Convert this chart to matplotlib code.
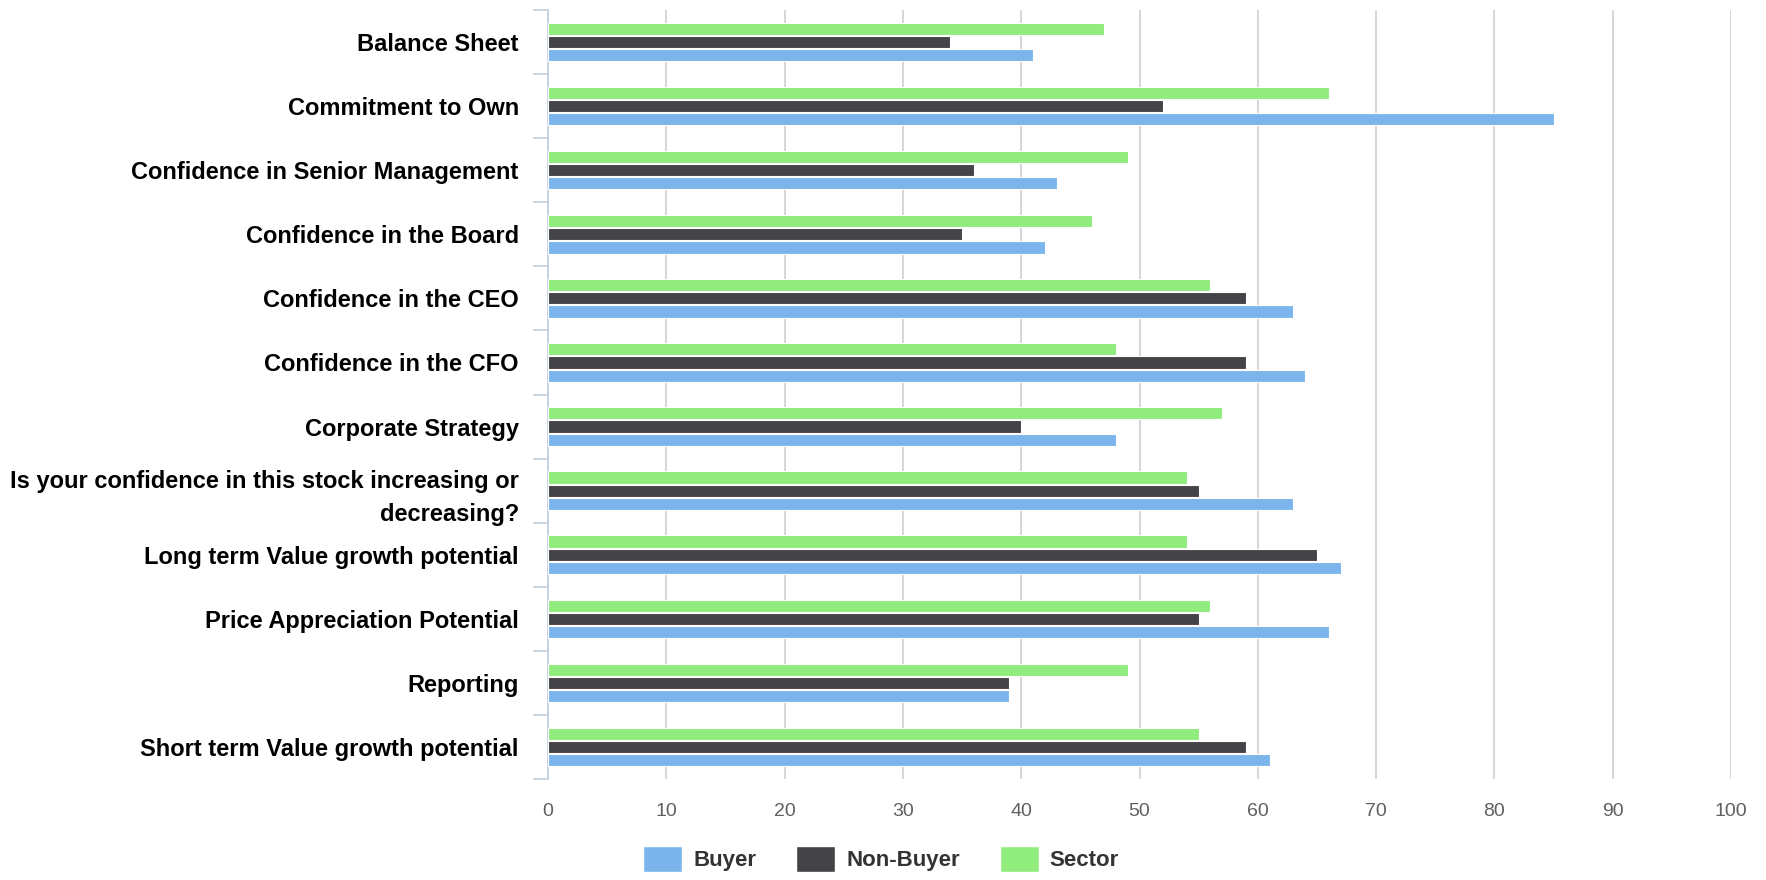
import matplotlib

matplotlib.use("Agg")
import matplotlib.pyplot as plt
import numpy as np
from matplotlib.patches import Patch

# --- data ---
categories = [
    "Balance Sheet",
    "Commitment to Own",
    "Confidence in Senior Management",
    "Confidence in the Board",
    "Confidence in the CEO",
    "Confidence in the CFO",
    "Corporate Strategy",
    "Is your confidence in this stock increasing or\ndecreasing?",
    "Long term Value growth potential",
    "Price Appreciation Potential",
    "Reporting",
    "Short term Value growth potential",
]
buyer = [41, 85, 43, 42, 63, 64, 48, 63, 67, 66, 39, 61]
non_buyer = [34, 52, 36, 35, 59, 59, 40, 55, 65, 55, 39, 59]
sector = [47, 66, 49, 46, 56, 48, 57, 54, 54, 56, 49, 55]
series_names = ["Buyer", "Non-Buyer", "Sector"]
x_ticks = list(range(0, 101, 10))

# --- palette ---
BUYER = "#7cb5ec"
NONBUYER = "#434348"
SECTOR = "#90ed7d"
GRID = "#cccccc"
AXIS = "#c0d0e0"
TICKTXT = "#606060"

plt.rcParams["font.family"] = ["Liberation Sans", "DejaVu Sans"]

fig = plt.figure(figsize=(17.66, 8.80), dpi=100, facecolor="white")
ax = fig.add_axes([548 / 1766, 1 - 779 / 880, (1731 - 548) / 1766, (779 - 10) / 880])

y = np.arange(len(categories))
step = 0.205
h = 0.19
kw = dict(height=h, edgecolor="white", linewidth=0.8, zorder=3)
ax.barh(y - step, sector, color=SECTOR, **kw)
ax.barh(y, non_buyer, color=NONBUYER, **kw)
ax.barh(y + step, buyer, color=BUYER, **kw)

ax.set_xlim(0, 100)
ax.set_ylim(len(categories) - 0.5, -0.5)
ax.set_xticks(x_ticks)
ax.set_xticklabels([str(t) for t in x_ticks])
ax.set_yticks(y)
ax.set_yticklabels(categories, fontsize=17, fontweight="bold", color="black")
for lbl in ax.get_yticklabels():
    lbl.set_linespacing(1.55)
ax.set_yticks(np.arange(len(categories) + 1) - 0.5, minor=True)

ax.grid(axis="x", color=GRID, linewidth=1.1, zorder=0)
ax.set_axisbelow(True)
for s in ("top", "right", "bottom"):
    ax.spines[s].set_visible(False)
ax.spines["left"].set_color(AXIS)
ax.spines["left"].set_linewidth(1.2)

ax.tick_params(axis="x", length=0, pad=17, labelsize=14, labelcolor=TICKTXT)
ax.tick_params(axis="y", which="major", length=0, pad=21)
ax.tick_params(axis="y", which="minor", length=11, width=1.2, color=AXIS)

handles = [Patch(facecolor=c, edgecolor="white") for c in (BUYER, NONBUYER, SECTOR)]
fig.legend(
    handles, series_names, loc="center", bbox_to_anchor=(881 / 1766, 1 - 859 / 880),
    ncol=3, frameon=False, handlelength=1.75, handleheight=1.4, handletextpad=0.5,
    columnspacing=1.8, prop={"size": 16, "weight": "bold"}, labelcolor="#333333",
)

fig.savefig("out.png", dpi=100, facecolor="white")
